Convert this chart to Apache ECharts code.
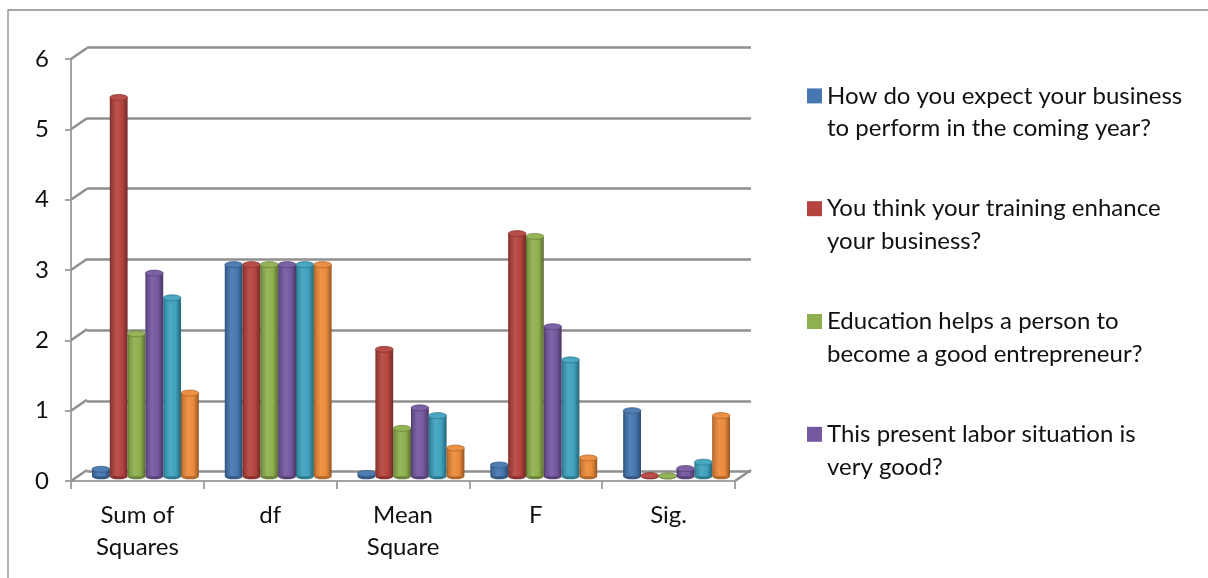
<!DOCTYPE html>
<html>
<head>
<meta charset="utf-8">
<script src="https://cdn.jsdelivr.net/npm/echarts@6/dist/echarts.min.js"></script>
<style>
  html, body { margin: 0; padding: 0; background: #fff; }
  #chart { width: 1208px; height: 578px; }
</style>
</head>
<body>
<div id="chart"></div>
<script>
// ANOVA summary: one cylinder per question, grouped by statistic
const categories = ['Sum of\nSquares', 'df', 'Mean\nSquare', 'F', 'Sig.'];
const yTicks = [0, 1, 2, 3, 4, 5, 6];

const seriesNames = [
  'How do you expect your business\nto perform in the coming year?',
  'You think your training enhance\nyour business?',
  'Education helps a person to\nbecome a good entrepreneur?',
  'This present labor situation is\nvery good?',
  'Question 5',
  'Question 6'
];

const q1Values = [0.10, 3, 0.04, 0.16, 0.93];
const q2Values = [5.37, 3, 1.80, 3.44, 0.01];
const q3Values = [2.02, 3, 0.68, 3.40, 0.005];
const q4Values = [2.88, 3, 0.97, 2.12, 0.11];
const q5Values = [2.53, 3, 0.86, 1.65, 0.20];
const q6Values = [1.18, 3, 0.40, 0.26, 0.86];
const seriesValues = [q1Values, q2Values, q3Values, q4Values, q5Values, q6Values];

const palette = ['#4677B0', '#B5443F', '#8FB04E', '#7559A0', '#3FA2BE', '#EB8A3A'];

const FONT = 'Lato';
const GRID_COLOR = '#8f8f8f';
const AXIS_COLOR = '#a3a3a3';
const GROUP_RATIO = 107 / 133;   // share of a category band taken by a cluster
const DEPTH = [16, -11];         // offset from the front axis plane to the back wall

function shade(hex, f) {
  const n = parseInt(hex.slice(1), 16);
  let r = (n >> 16) & 255, g = (n >> 8) & 255, b = n & 255;
  if (f < 0) { r *= 1 + f; g *= 1 + f; b *= 1 + f; }
  else { r += (255 - r) * f; g += (255 - g) * f; b += (255 - b) * f; }
  return 'rgb(' + Math.round(r) + ',' + Math.round(g) + ',' + Math.round(b) + ')';
}

function cylinder(k, color) {
  const N = seriesValues.length;
  return function (params, api) {
    const ci = api.value(0), v = api.value(1);
    const band = api.size([1, 0])[0];
    const bw = band * GROUP_RATIO / N;
    const base = api.coord([ci, 0]);
    const top = api.coord([ci, v]);
    const x = base[0] - bw * N / 2 + k * bw;
    const cx = x + bw / 2;
    const body = new echarts.graphic.LinearGradient(0, 0, 1, 0, [
      { offset: 0, color: shade(color, -0.35) },
      { offset: 0.12, color: shade(color, -0.12) },
      { offset: 0.38, color: shade(color, 0.08) },
      { offset: 0.7, color: color },
      { offset: 1, color: shade(color, -0.38) }
    ]);
    const sy = 0.34;
    return {
      type: 'group',
      children: [
        { type: 'circle', shape: { cx: 0, cy: 0, r: bw / 2 }, x: cx, y: base[1], scaleY: sy,
          style: { fill: shade(color, -0.25) } },
        { type: 'rect', shape: { x: x, y: top[1], width: bw, height: base[1] - top[1] },
          style: { fill: body } },
        { type: 'circle', shape: { cx: 0, cy: 0, r: bw / 2 }, x: cx, y: top[1], scaleY: sy,
          style: { fill: shade(color, 0.05), stroke: shade(color, -0.3), lineWidth: 1, strokeNoScale: true } }
      ]
    };
  };
}

const cylinderSeries = seriesValues.map(function (vals, k) {
  return {
    name: seriesNames[k],
    type: 'custom',
    xAxisIndex: 2,
    yAxisIndex: 2,
    itemStyle: { color: palette[k] },
    renderItem: cylinder(k, palette[k]),
    data: vals.map(function (v, i) { return [i, v]; }),
    z: 5 + k
  };
});

// slanted ticks joining the front value axis to the back wall
const wallJoins = {
  type: 'custom',
  xAxisIndex: 0,
  yAxisIndex: 0,
  silent: true,
  renderItem: function (params, api) {
    const band = api.size([1, 0])[0];
    const p = api.coord([api.value(0), api.value(1)]);
    const x0 = p[0] + api.value(2) * band / 2;
    return {
      type: 'line',
      shape: { x1: x0, y1: p[1], x2: x0 + DEPTH[0], y2: p[1] + DEPTH[1] },
      style: { stroke: GRID_COLOR, lineWidth: 2.5 }
    };
  },
  data: yTicks.map(function (t) { return [0, t, -1]; })
    .concat([[categories.length - 1, 0, 1]]),
  z: 1
};

const chart = echarts.init(document.getElementById('chart'), null, { renderer: 'canvas' });

chart.setOption({
  animation: false,
  backgroundColor: '#fff',
  textStyle: { fontFamily: FONT },
  graphic: [{
    type: 'rect', silent: true, z: -10,
    shape: { x: 8, y: 10, width: 1300, height: 700 },
    style: { fill: 'none', stroke: '#8a8a8a', lineWidth: 1.3 }
  }],
  grid: [
    { left: 71, top: 59, width: 664, height: 422 },
    { left: 87, top: 47, width: 664, height: 424.5 },
    { left: 79, top: 53, width: 664, height: 423.3 }
  ],
  xAxis: [
    {
      gridIndex: 0, type: 'category', data: categories, boundaryGap: true,
      axisLine: { lineStyle: { color: AXIS_COLOR, width: 2 } },
      axisTick: { show: true, length: 8, lineStyle: { color: AXIS_COLOR, width: 2 } },
      axisLabel: { color: '#111', fontFamily: FONT, fontSize: 24, lineHeight: 32, margin: 18, interval: 0 },
      splitLine: { show: false }
    },
    { gridIndex: 1, type: 'category', data: categories, show: false },
    { gridIndex: 2, type: 'category', data: categories, show: false }
  ],
  yAxis: [
    {
      gridIndex: 0, type: 'value', min: 0, max: 6, interval: 1,
      axisLine: { show: true, lineStyle: { color: AXIS_COLOR, width: 2 } },
      axisTick: { show: true, length: 6, lineStyle: { color: AXIS_COLOR, width: 2 } },
      axisLabel: { color: '#111', fontFamily: FONT, fontSize: 24, margin: 22 },
      splitLine: { show: false }
    },
    {
      gridIndex: 1, type: 'value', min: 0, max: 6, interval: 1,
      axisLine: { show: false }, axisTick: { show: false }, axisLabel: { show: false },
      splitLine: { show: true, lineStyle: { color: GRID_COLOR, width: 2.5 } }
    },
    {
      gridIndex: 2, type: 'value', min: 0, max: 6, interval: 1, show: false,
      splitLine: { show: false }
    }
  ],
  legend: {
    orient: 'vertical',
    left: 807,
    top: 47,
    padding: 0,
    itemWidth: 15,
    itemHeight: 15,
    itemGap: 15,
    icon: 'rect',
    selectedMode: false,
    data: seriesNames.slice(0, 4),
    // a leading blank line keeps the swatch level with the first text line
    formatter: function (name) { return ' \n' + name; },
    textStyle: { color: '#111', fontFamily: FONT, fontSize: 24, lineHeight: 32.6 }
  },
  series: [wallJoins].concat(cylinderSeries)
});
</script>
</body>
</html>
